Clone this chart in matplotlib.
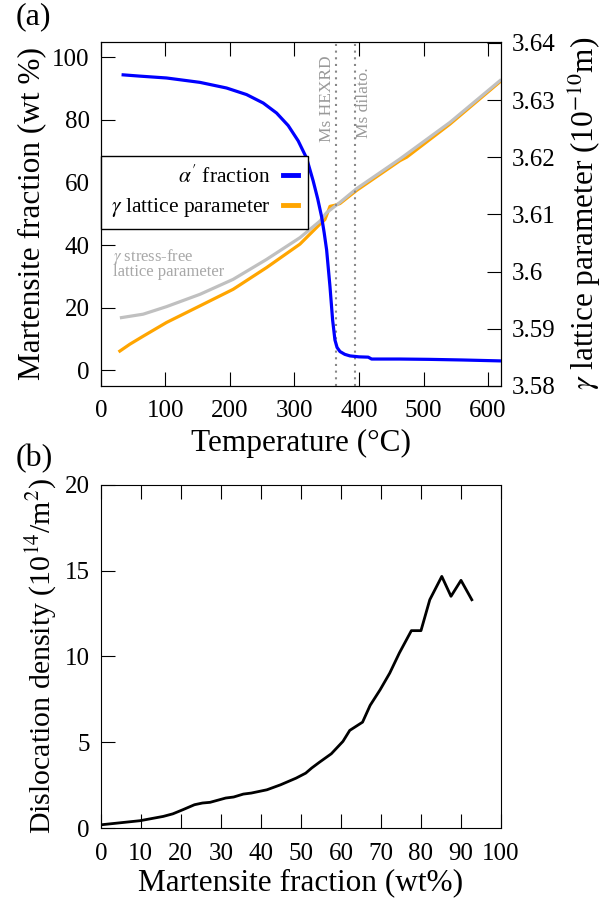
import numpy as np
import matplotlib
matplotlib.use("Agg")
import matplotlib.pyplot as plt

plt.rcParams["font.family"] = ["Liberation Serif", "DejaVu Serif"]
plt.rcParams["mathtext.fontset"] = "stix"

# (a) martensite fraction vs temperature
temp_alpha = [34.6, 60, 101.8, 153.5, 194.8, 225.8, 251.6, 272.3, 290.3, 305.8, 318.8,
              329, 336, 342, 346, 349.8, 355, 359.1, 362.7, 366, 370.5, 378, 386, 400,
              414.3, 419.5, 463, 508, 560, 620]
alpha_frac = [94.4, 94.0, 93.4, 92.0, 90.2, 88.1, 85.4, 82.2, 78.2, 73.3, 67.8,
              60.5, 54.8, 49.1, 44.0, 38.5, 26.8, 16.1, 9.7, 7.3, 6.0, 5.1, 4.6, 4.3,
              4.2, 3.6, 3.6, 3.5, 3.3, 3.0]

# gamma lattice parameter (1e-10 m)
temp_gamma = [29.5, 45, 65.6, 101.8, 153.5, 205, 256.8, 308.5, 339.5, 347.2, 352, 355,
              362.7, 370.5, 396.3, 463.5, 473.8, 541, 618.5]
gamma_lat = [3.5861, 3.5873, 3.5887, 3.5911, 3.5940, 3.5969, 3.6007, 3.6048, 3.6083,
             3.6091, 3.6105, 3.6114, 3.6116, 3.6119, 3.6142, 3.6194, 3.6200, 3.6258,
             3.6332]

# stress-free gamma lattice parameter
temp_free = [32, 65.6, 101.8, 153.5, 205, 256.8, 308.5, 339.5, 349.8, 370.5, 396.3,
             463.5, 541, 618.5]
free_lat = [3.59195, 3.59255, 3.59387, 3.59602, 3.59864, 3.60213, 3.60593, 3.60883,
            3.6103, 3.6121, 3.6145, 3.6197, 3.6261, 3.6334]

ms_hexrd = 365
ms_dilato = 394

# (b) dislocation density vs martensite fraction
mart_frac = [0, 9.8, 15.6, 18, 20.5, 23.4, 25.4, 27.3, 31.2, 33.2, 35.6, 37.6, 41.5,
             44.9, 48.8, 51.2, 52.7, 54.6, 57.6, 60.5, 62.2, 65.4, 67.3, 69.8, 72.2,
             74.6, 77.6, 80, 82.2, 85.2, 87.5, 90, 92.7]
disl_dens = [0.19, 0.43, 0.68, 0.83, 1.07, 1.36, 1.46, 1.5, 1.75, 1.81, 1.98, 2.04,
             2.23, 2.52, 2.91, 3.2, 3.5, 3.83, 4.33, 5.05, 5.69, 6.17, 7.15, 8.06,
             9.03, 10.2, 11.5, 11.5, 13.3, 14.66, 13.5, 14.43, 13.3]

fig = plt.figure(figsize=(6.11, 9.06), dpi=100)

ax1 = fig.add_axes([0.165, 0.574, 0.655, 0.380])
ax2 = ax1.twinx()

l1, = ax1.plot(temp_alpha, alpha_frac, color="#0000ff", lw=2.3, zorder=4,
               label=r"$\alpha'$ fraction")
ax2.plot(temp_gamma, gamma_lat, color="#ffa500", lw=2.3, zorder=1)
ax2.plot(temp_free, free_lat, color="#c0c0c0", lw=2.3, zorder=2)
l2, = ax2.plot([], [], color="#ffa500", label=r"$\gamma$ lattice parameter")
ax1.set_zorder(ax2.get_zorder() + 1)
ax1.patch.set_visible(False)

for t in (ms_hexrd, ms_dilato):
    ax1.axvline(t, color="#888888", lw=1.5, ls=(0, (1, 2.2)))
ax1.text(ms_hexrd - 14, 73, "Ms HEXRD", rotation=90, ha="center", va="bottom",
         color="#999999", fontsize=12.5)
ax1.text(ms_dilato + 14, 74.3, "Ms dilato.", rotation=90, ha="center", va="bottom",
         color="#999999", fontsize=12.5)
ax1.text(0.03, 0.405, "$\\gamma$ stress-free\nlattice parameter", transform=ax1.transAxes,
         color="#a8a8a8", fontsize=12, linespacing=0.78, va="top")

ax1.set_xlim(0, 620)
ax1.set_ylim(-5, 105)
ax2.set_ylim(3.58, 3.6402)
ax1.set_xticks(np.arange(0, 601, 100))
ax1.set_yticks(np.arange(0, 101, 20))
ax2.set_yticks(np.arange(3.58, 3.6401, 0.01))
ax2.set_yticklabels(["3.58", "3.59", "3.6", "3.61", "3.62", "3.63", "3.64"])

ax1.tick_params(axis="x", direction="in", length=10, top=True, labelsize=18, pad=10)
ax1.tick_params(axis="y", direction="in", length=10, labelsize=18, pad=8)
ax2.tick_params(axis="y", direction="in", length=10, labelsize=18, pad=8)

ax1.set_xlabel("Temperature (°C)", fontsize=22.5, labelpad=5)
ax1.set_ylabel("Martensite fraction (wt %)", fontsize=22.5, labelpad=4)
ax2.set_ylabel(r"$\gamma$ lattice parameter (10$^{-10}$m)", fontsize=22.5, labelpad=8)

leg = ax1.legend(handles=[l1, l2], loc="upper left", bbox_to_anchor=(0, 0.669),
                 borderaxespad=0, fontsize=15.5, markerfirst=False, handlelength=0.7,
                 handletextpad=0.6, fancybox=False, framealpha=1, edgecolor="black",
                 labelspacing=0.4, borderpad=0.45)
leg.get_frame().set_linewidth(1.0)
for h in leg.get_lines():
    h.set_linewidth(3.5)

fig.text(0.026, 0.982, "(a)", fontsize=23, va="center")

# (b)
ax3 = fig.add_axes([0.165, 0.086, 0.655, 0.379])
ax3.plot(mart_frac, disl_dens, color="black", lw=2.0)
ax3.set_xlim(0, 100)
ax3.set_ylim(0, 20)
ax3.set_xticks(np.arange(0, 101, 10))
ax3.set_yticks(np.arange(0, 21, 5))
ax3.tick_params(axis="x", direction="in", length=10, top=True, labelsize=18, pad=11)
ax3.tick_params(axis="y", direction="in", length=10, labelsize=18, pad=8)
ax3.set_xlabel("Martensite fraction (wt%)", fontsize=22.5, labelpad=2)
ax3.set_ylabel(r"Dislocation density (10$^{14}$/m$^{2}$)", fontsize=21.5, labelpad=4)

fig.text(0.026, 0.494, "(b)", fontsize=23, va="center")

fig.savefig("out.png", dpi=100)
